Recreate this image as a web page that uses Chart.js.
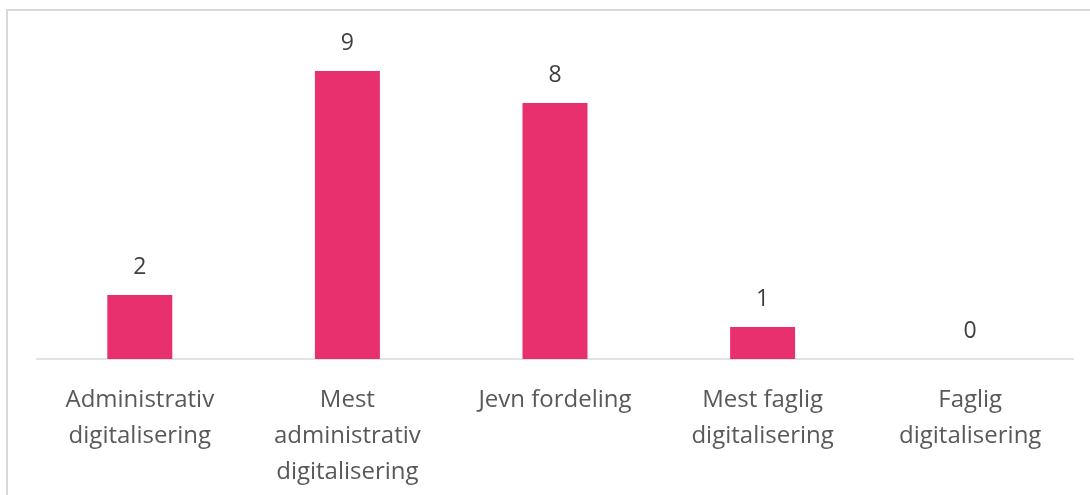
<!DOCTYPE html>
<html>
<head>
<meta charset="utf-8">
<script src="https://cdn.jsdelivr.net/npm/chart.js@4"></script>
<style>
  html, body { margin: 0; padding: 0; background: #fff; overflow: hidden; }
  #frame { position: absolute; left: 6px; top: 9px; width: 1200px; height: 600px; border: 2px solid #d9d9d9; }
  #myBarChart { position: absolute; left: 0; top: 0; }
</style>
</head>
<body>
<div id="frame"></div>
<canvas id="myBarChart" width="1090" height="495"></canvas>
<script>
const categories = [
  ["Administrativ", "digitalisering"],
  ["Mest", "administrativ", "digitalisering"],
  ["Jevn fordeling"],
  ["Mest faglig", "digitalisering"],
  ["Faglig", "digitalisering"]
];
const counts = [2, 9, 8, 1, 0];

const fontFamily = "'Open Sans', 'Noto Sans', sans-serif";

// baseline along the plot area + value labels above each bar
const valueLabels = {
  id: "valueLabels",
  beforeDatasetsDraw(chart) {
    const ctx = chart.ctx;
    const a = chart.chartArea;
    const y0 = chart.scales.y.getPixelForValue(0);
    ctx.save();
    ctx.strokeStyle = "#d9d9d9";
    ctx.lineWidth = 1.5;
    ctx.beginPath();
    ctx.moveTo(a.left, y0);
    ctx.lineTo(a.right, y0);
    ctx.stroke();
    ctx.restore();
  },
  afterDatasetsDraw(chart) {
    const ctx = chart.ctx;
    const meta = chart.getDatasetMeta(0);
    ctx.save();
    ctx.font = "23px " + fontFamily;
    ctx.fillStyle = "#404040";
    ctx.textAlign = "center";
    ctx.textBaseline = "middle";
    meta.data.forEach((bar, i) => {
      ctx.fillText(String(counts[i]), bar.x, bar.y - 28);
    });
    ctx.restore();
  }
};

new Chart(document.getElementById("myBarChart").getContext("2d"), {
  type: "bar",
  data: {
    labels: categories,
    datasets: [{
      data: counts,
      backgroundColor: "#E9306F",
      barPercentage: 0.313,
      categoryPercentage: 1
    }]
  },
  options: {
    responsive: false,
    animation: false,
    layout: { padding: { left: 36, right: 16, top: 39, bottom: 0 } },
    plugins: { legend: { display: false }, tooltip: { enabled: false } },
    scales: {
      x: {
        grid: { display: false, drawTicks: false },
        border: { display: false },
        ticks: {
          color: "#595959",
          font: { family: fontFamily, size: 24, lineHeight: 1.5 },
          padding: 23,
          maxRotation: 0,
          autoSkip: false
        },
        afterFit(scale) { scale.height = 136; }
      },
      y: {
        display: false,
        min: 0,
        max: 10
      }
    }
  },
  plugins: [valueLabels]
});
</script>
</body>
</html>
